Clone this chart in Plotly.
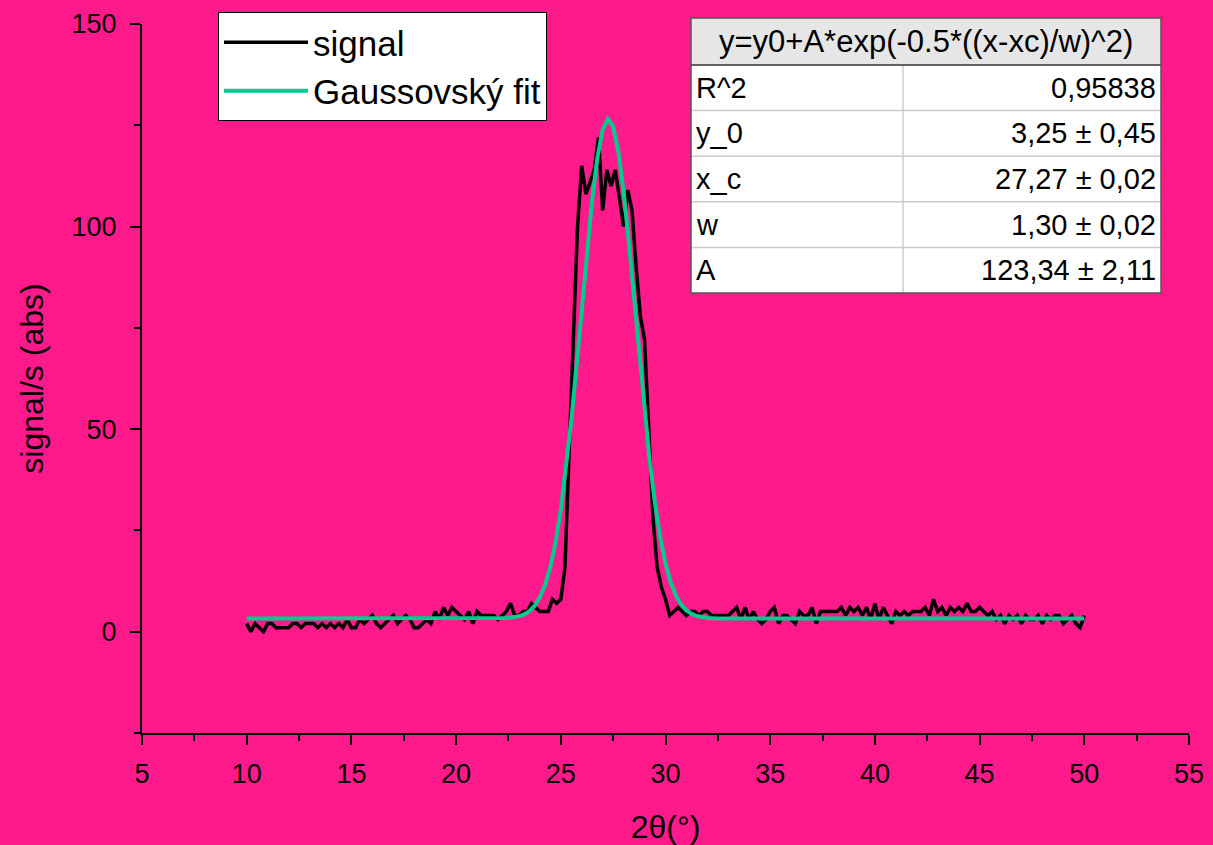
import numpy as np
import plotly.graph_objects as go

# ---------------- data ----------------
# measured signal, 2theta from 10 to 50 deg in 0.2 deg steps
sig_10_17 = [2, 0, 2, 1, 0, 2, 2, 1, 1, 1, 1, 2, 2, 1, 2, 2, 2, 1, 2, 1,
             2, 1, 2, 1, 3, 1, 1, 3, 2, 3, 4, 2, 1, 2, 3, 4]
sig_17_25 = [2, 3, 4, 3, 1, 1, 2, 3, 2, 5, 3, 6, 4, 6, 5, 4, 3, 5, 2, 5,
             4, 4, 4, 4, 3, 4, 5, 7, 4, 4, 5, 5, 7, 6, 5, 5, 5, 8, 7, 8]
sig_peak = [16, 45, 72, 100, 115, 108, 111, 114, 122, 104, 114, 110, 114, 107,
            100, 109, 104, 90, 78, 72, 48, 28, 16, 11, 8]
sig_30_40 = [4, 5, 6, 5, 4, 5, 5, 4, 5, 5, 4, 4, 4, 4, 4, 5, 6, 3, 6, 3,
             5, 3, 2, 3, 5, 6, 2, 4, 4, 3, 2, 5, 4, 4, 6, 2, 5, 5, 5, 5,
             5, 6, 4, 6, 5, 6, 4, 6, 3, 7]
sig_40_50 = [3, 6, 4, 2, 5, 4, 5, 4, 5, 5, 5, 6, 4, 8, 5, 6, 4, 6, 5, 6,
             5, 7, 5, 5, 6, 5, 4, 5, 3, 4, 2, 4, 3, 4, 2, 4, 3, 3, 4, 2,
             4, 3, 4, 4, 2, 3, 4, 2, 1, 4]
signal_y = sig_10_17 + sig_17_25 + sig_peak + sig_30_40 + sig_40_50
signal_x = np.round(np.linspace(10.0, 50.0, len(signal_y)), 2)

# Gaussian fit curve
fit_x = [10, 15, 20, 21, 22, 22.5, 23, 23.25, 23.5, 23.75, 24, 24.25, 24.5, 24.75,
         25, 25.25, 25.5, 25.75, 26, 26.25, 26.5, 26.75, 27, 27.25, 27.5, 27.75,
         28, 28.25, 28.5, 28.75, 29, 29.25, 29.5, 29.75, 30, 30.25, 30.5, 30.75,
         31, 31.25, 31.5, 31.75, 32, 32.5, 33, 34, 40, 45, 50]
fit_y = [3.25, 3.25, 3.25, 3.25, 3.28, 3.40, 3.81, 4.28, 5.09, 6.40, 8.47, 11.55,
         15.99, 22.10, 30.10, 40.14, 52.07, 65.51, 79.80, 93.92, 106.75, 117.11,
         123.95, 126.58, 124.68, 118.46, 108.60, 96.09, 82.09, 67.77, 54.13, 41.92,
         31.58, 23.24, 16.85, 12.17, 8.88, 6.68, 5.26, 4.39, 3.87, 3.58, 3.41,
         3.29, 3.26, 3.25, 3.25, 3.25, 3.25]

series_names = ["signal", "Gaussovský fit"]

table_title = "y=y0+A*exp(-0.5*((x-xc)/w)^2)"
table_params = ["R^2", "y_0", "x_c", "w", "A"]
table_values = ["0,95838", "3,25 ± 0,45", "27,27 ± 0,02", "1,30 ± 0,02", "123,34 ± 2,11"]

x_title = "2θ(°)"
y_title = "signal/s (abs)"

# ---------------- styling ----------------
BG = "#FF1A8C"
GREEN = "#00CC8F"
FONT = "Liberation Sans, Arial, sans-serif"

W, H = 1213, 845
L, R, T, B = 142, 24, 24, 112
PW, PH = W - L - R, H - T - B


def px(xp):
    return (xp - L) / PW


def py(yp):
    return (H - B - yp) / PH


fig = go.Figure()
fig.add_trace(go.Scatter(x=signal_x, y=signal_y, mode="lines", name=series_names[0],
                         line=dict(color="black", width=3.5)))
fig.add_trace(go.Scatter(x=fit_x, y=fit_y, mode="lines", name=series_names[1],
                         line=dict(color=GREEN, width=4)))

axis_common = dict(showline=True, linecolor="black", linewidth=2, ticks="outside",
                   tickcolor="black", tickwidth=2, ticklen=10, showgrid=False,
                   zeroline=False, tickfont=dict(family=FONT, size=27, color="black"))

fig.update_xaxes(range=[5, 55], dtick=5, tick0=5,
                 minor=dict(ticks="outside", dtick=2.5, ticklen=6, tickwidth=2, tickcolor="black"),
                 title=dict(text=x_title, font=dict(family=FONT, size=32, color="black"), standoff=28),
                 ticklabelstandoff=6, **axis_common)
fig.update_yaxes(range=[-25, 150], dtick=50, tick0=0,
                 minor=dict(ticks="outside", dtick=25, ticklen=6, tickwidth=2, tickcolor="black"),
                 title=dict(text=y_title, font=dict(family=FONT, size=32, color="black"), standoff=18),
                 ticklabelstandoff=8, **axis_common)

# ---------------- fit parameter table ----------------
tl, tr, tt, th_bot, tb = 691, 1161, 18, 65, 293
tdiv = 903
rh = (tb - th_bot) / len(table_params)
shapes = []
shapes.append(dict(type="rect", xref="paper", yref="paper", x0=px(tl), x1=px(tr),
                   y0=py(th_bot), y1=py(tt), fillcolor="#E6E6E6", line=dict(width=0), layer="above"))
shapes.append(dict(type="rect", xref="paper", yref="paper", x0=px(tl), x1=px(tr),
                   y0=py(tb), y1=py(th_bot), fillcolor="white", line=dict(width=0), layer="above"))
for i in range(1, len(table_params)):
    yy = th_bot + i * rh
    shapes.append(dict(type="line", xref="paper", yref="paper", x0=px(tl), x1=px(tr),
                       y0=py(yy), y1=py(yy), line=dict(color="#CCCCCC", width=1.5), layer="above"))
shapes.append(dict(type="line", xref="paper", yref="paper", x0=px(tdiv), x1=px(tdiv),
                   y0=py(tb), y1=py(th_bot), line=dict(color="#CCCCCC", width=1.5), layer="above"))
shapes.append(dict(type="line", xref="paper", yref="paper", x0=px(tl), x1=px(tr),
                   y0=py(th_bot), y1=py(th_bot), line=dict(color="#333333", width=1.5), layer="above"))
shapes.append(dict(type="rect", xref="paper", yref="paper", x0=px(tl), x1=px(tr),
                   y0=py(tb), y1=py(tt), line=dict(color="#555555", width=1.5), layer="above"))

annotations = [dict(xref="paper", yref="paper", x=px((tl + tr) / 2), y=py((tt + th_bot) / 2),
                    text=table_title, showarrow=False, xanchor="center", yanchor="middle",
                    font=dict(family=FONT, size=31, color="black"))]
for i, (p, v) in enumerate(zip(table_params, table_values)):
    yc = th_bot + (i + 0.5) * rh
    annotations.append(dict(xref="paper", yref="paper", x=px(tl + 3), y=py(yc), text=p,
                            showarrow=False, xanchor="left", yanchor="middle",
                            font=dict(family=FONT, size=29, color="black")))
    annotations.append(dict(xref="paper", yref="paper", x=px(tr - 3), y=py(yc), text=v,
                            showarrow=False, xanchor="right", yanchor="middle",
                            font=dict(family=FONT, size=29, color="black")))

fig.update_layout(
    width=W, height=H,
    margin=dict(l=L, r=R, t=T, b=B, autoexpand=False),
    paper_bgcolor=BG, plot_bgcolor=BG,
    showlegend=True,
    legend=dict(x=px(218), y=py(12), xanchor="left", yanchor="top",
                bgcolor="white", bordercolor="black", borderwidth=1,
                font=dict(family=FONT, size=35, color="black"),
                itemwidth=84, tracegroupgap=0),
    shapes=shapes,
    annotations=annotations,
)

fig.write_html("out.html",
               config={"displayModeBar": False},
               post_script="document.body.style.margin='0';document.body.style.padding='0';"
                           "document.body.style.overflow='hidden';")
